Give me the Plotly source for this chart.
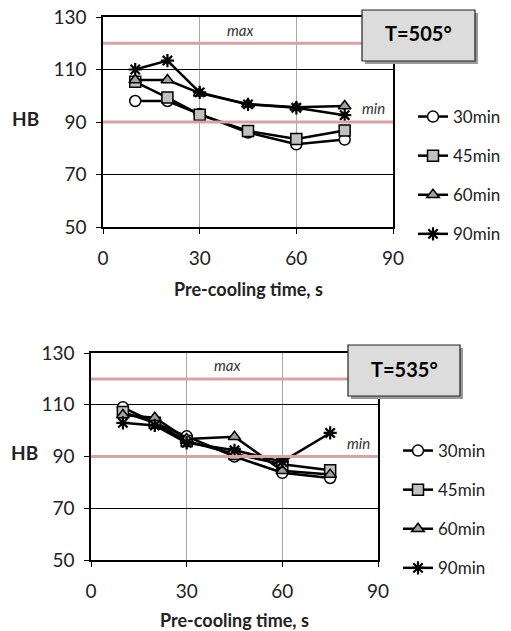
import plotly.graph_objects as go

x_times = [10, 20, 30, 45, 60, 75]
series_names = ["30min", "45min", "60min", "90min"]

# T=505
hb505_30 = [98, 98, 93, 86, 81.5, 83.3]
hb505_45 = [105.3, 99.3, 92.8, 86.6, 83.5, 86.8]
hb505_60 = [106, 106, 101, 96.8, 95.6, 96.1]
hb505_90 = [110, 113.4, 101.3, 96.7, 95.4, 92.6]

# T=535
hb535_30 = [109, 103, 97.8, 90, 83.7, 81.7]
hb535_45 = [107.2, 103, 96, 91, 87, 84.7]
hb535_60 = [106, 105, 96.8, 97.6, 84.5, 83]
hb535_90 = [103, 102, 95.3, 92.4, 88, 99.1]

max_hb = 120
min_hb = 90

FONT = "Lato"
OFF = 8  # page body margin
W, H = 511 - OFF, 631 - OFF

def PX(x):
    return (x - OFF) / W

def PY(y):
    return 1 - (y - OFF) / H

markers = [
    dict(symbol="circle", color="white", size=11, line=dict(color="black", width=1.5)),
    dict(symbol="square", color="#c0c0c0", size=11, line=dict(color="black", width=1.5)),
    dict(symbol="triangle-up", color="#a0a0a0", size=11, line=dict(color="black", width=1.5)),
    dict(symbol="asterisk-open", color="black", size=11, line=dict(color="black", width=2.2)),
]

fig = go.Figure()

top_sets = [hb505_30, hb505_45, hb505_60, hb505_90]
bot_sets = [hb535_30, hb535_45, hb535_60, hb535_90]

for i, (name, vals) in enumerate(zip(series_names, top_sets)):
    fig.add_trace(go.Scatter(x=x_times, y=vals, name=name, mode="lines+markers",
                             line=dict(color="black", width=2.5), marker=markers[i],
                             xaxis="x", yaxis="y", legend="legend",
                             legendgroup="t" + name))
for i, (name, vals) in enumerate(zip(series_names, bot_sets)):
    fig.add_trace(go.Scatter(x=x_times, y=vals, name=name, mode="lines+markers",
                             line=dict(color="black", width=2.5), marker=markers[i],
                             xaxis="x2", yaxis="y2", legend="legend2",
                             legendgroup="b" + name))

# plot area pixel positions (screen pixels)
top = dict(x0=103, x1=393, y0=17, y1=227)
bot = dict(x0=91, x1=378, y0=353, y1=560)

def px_dom(d):
    return [PX(d["x0"]), PX(d["x1"])], [PY(d["y1"]), PY(d["y0"])]

tx, ty = px_dom(top)
bx, by = px_dom(bot)

xcommon = dict(range=[0, 90], tickvals=[0, 30, 60, 90], showgrid=True, gridcolor="#a8a8a8",
               gridwidth=1, showline=True, linecolor="black", linewidth=1.5, mirror=True,
               ticks="outside", ticklen=5, tickcolor="black", zeroline=False, automargin=False,
               ticklabeloverflow="allow",
               tickfont=dict(family=FONT, size=19, color="#222"), ticklabelstandoff=8)
ycommon = dict(range=[50, 130], tickvals=[50, 70, 90, 110, 130], showgrid=True, gridcolor="black",
               gridwidth=1, showline=True, linecolor="black", linewidth=1.5, mirror=True,
               ticks="outside", ticklen=5, tickcolor="black", zeroline=False, automargin=False,
               ticklabeloverflow="allow",
               tickfont=dict(family=FONT, size=19, color="#222"), ticklabelstandoff=6)

legcommon = dict(font=dict(family=FONT, size=17, color="#222"), bgcolor="rgba(0,0,0,0)",
                 tracegroupgap=14, itemwidth=30, xanchor="left", yanchor="top",
                 traceorder="grouped")

fig.update_layout(
    width=W, height=H, margin=dict(l=0, r=0, t=0, b=0, autoexpand=False),
    paper_bgcolor="white", plot_bgcolor="white",
    xaxis=dict(domain=tx, anchor="y", **xcommon),
    yaxis=dict(domain=ty, anchor="x", **ycommon),
    xaxis2=dict(domain=bx, anchor="y2", **xcommon),
    yaxis2=dict(domain=by, anchor="x2", **ycommon),
    legend=dict(x=PX(413), y=PY(99), **legcommon),
    legend2=dict(x=PX(398), y=PY(433), **legcommon),
    showlegend=True,
)

shapes = []
annotations = []
pink = "#d9a3a3"
for xr, yr, d, dy in [("x", "y", top, 62), ("x2", "y2", bot, 60)]:
    for v in (max_hb, min_hb):
        shapes.append(dict(type="line", xref=xr + " domain", yref=yr, x0=0, x1=1, y0=v, y1=v,
                           line=dict(color=pink, width=3), layer="above"))
    annotations.append(dict(xref=xr, yref=yr, x=42.5, y=max_hb + 1, text="<i>max</i>",
                            showarrow=False, xanchor="center", yanchor="bottom",
                            font=dict(family=FONT, size=15, color="#333")))
    annotations.append(dict(xref=xr, yref=yr, x=84, y=min_hb + 1, text="<i>min</i>",
                            showarrow=False, xanchor="center", yanchor="bottom",
                            font=dict(family=FONT, size=15, color="#333")))
    annotations.append(dict(xref="paper", yref="paper", x=PX((d["x0"] + d["x1"]) / 2),
                            y=PY(d["y1"] + dy), text="<b>Pre-cooling time, s</b>",
                            showarrow=False, xanchor="center", yanchor="middle",
                            font=dict(family=FONT, size=18, color="#222")))

# HB labels
annotations.append(dict(xref="paper", yref="paper", x=PX(25), y=PY(118), text="<b>HB</b>",
                        showarrow=False, xanchor="center", yanchor="middle",
                        font=dict(family=FONT, size=19, color="#222")))
annotations.append(dict(xref="paper", yref="paper", x=PX(9), y=PY(452), text="<b>HB</b>",
                        showarrow=False, xanchor="left", yanchor="middle",
                        font=dict(family=FONT, size=19, color="#222")))

# Temperature boxes
for (bx0, by0, bx1, by1, label) in [(362, 10, 475, 61, "T=505°"), (348, 345, 460, 396, "T=535°")]:
    shapes.append(dict(type="rect", xref="paper", yref="paper",
                       x0=PX(bx0 + 3), x1=PX(bx1 + 3), y0=PY(by1 + 3), y1=PY(by0 + 3),
                       fillcolor="#9a9a9a", line=dict(width=0), layer="above"))
    shapes.append(dict(type="rect", xref="paper", yref="paper",
                       x0=PX(bx0), x1=PX(bx1), y0=PY(by1), y1=PY(by0),
                       fillcolor="#dcdcdc", line=dict(color="#222", width=1.2), layer="above"))
    annotations.append(dict(xref="paper", yref="paper", x=PX((bx0 + bx1) / 2),
                            y=PY((by0 + by1) / 2 - 2), text="<b>" + label + "</b>",
                            showarrow=False, xanchor="center", yanchor="middle",
                            font=dict(family=FONT, size=20, color="black")))

fig.update_layout(shapes=shapes, annotations=annotations)
fig.write_html("out.html")
